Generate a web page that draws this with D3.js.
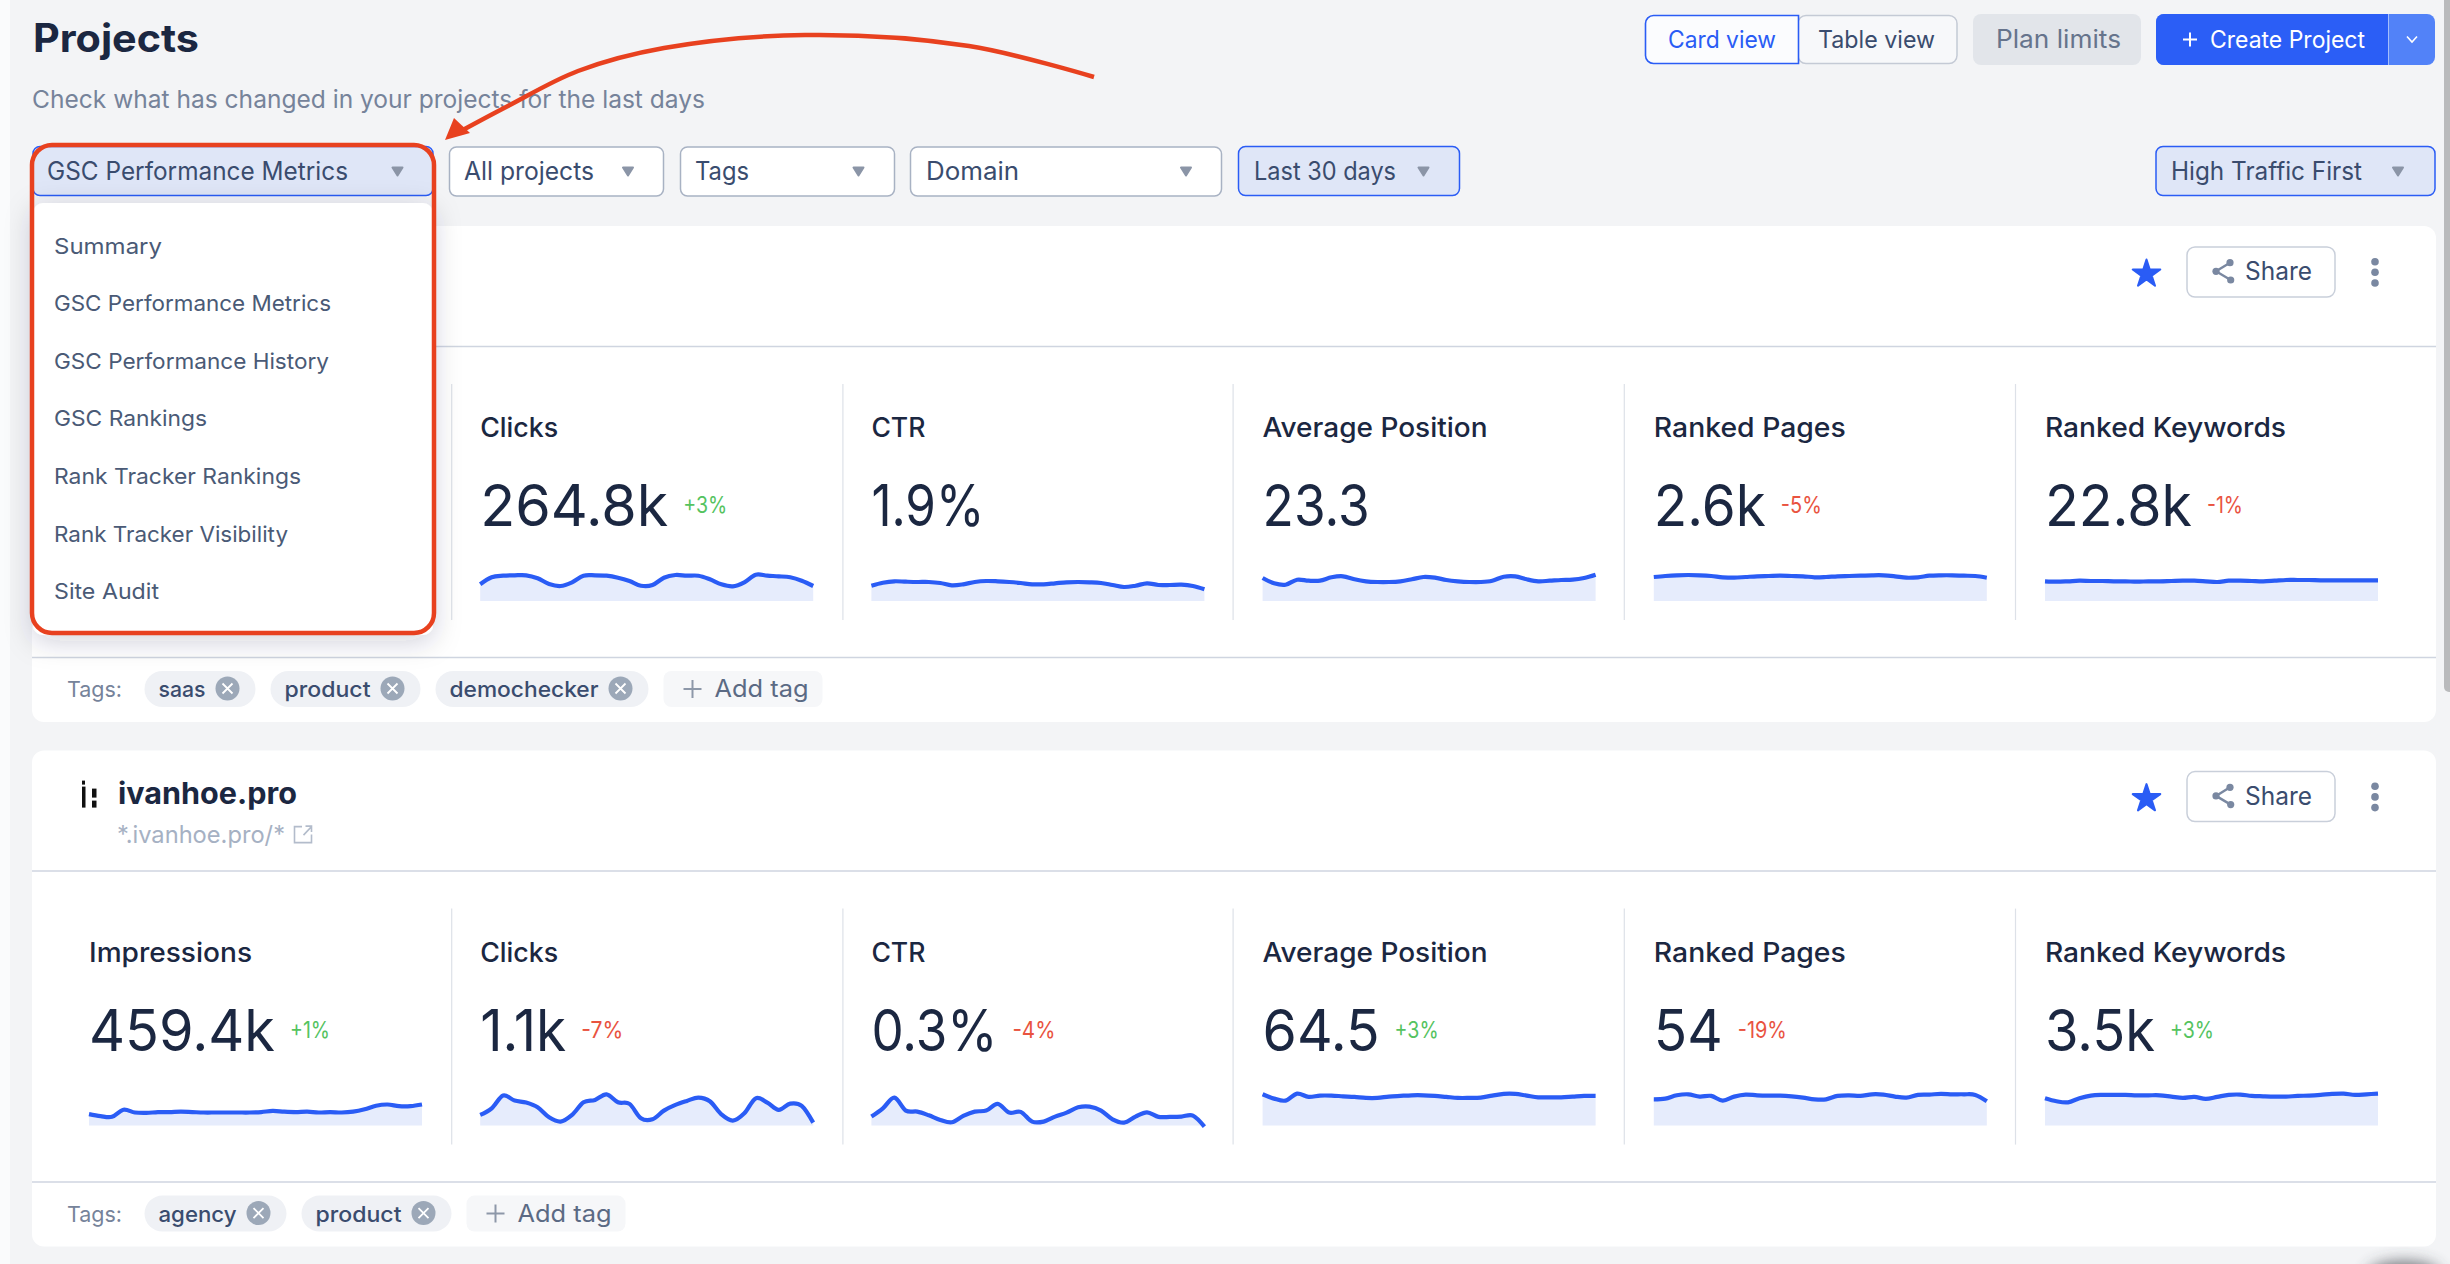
<!DOCTYPE html>
<html>
<head>
<meta charset="utf-8">
<title>Projects</title>
<script src="https://cdn.jsdelivr.net/npm/d3@7"></script>
<style>
  html, body { margin: 0; padding: 0; background: #f3f4f6; overflow: hidden; }
  svg { display: block; }
  text { font-family: Inter, "Noto Sans", sans-serif; }
</style>
</head>
<body>
<svg id="chart" width="2450" height="1264"></svg>
<script>
// ---- data ----
const metricNames = ["Impressions", "Clicks", "CTR", "Average Position", "Ranked Pages", "Ranked Keywords"];

// first card: the Impressions column sits behind the open dropdown
const cardOneValues = [null, "264.8k", "1.9%", "23.3", "2.6k", "22.8k"];
const cardOneDeltas = [null, "+3%", "", "", "-5%", "-1%"];
const cardTwoValues = ["459.4k", "1.1k", "0.3%", "64.5", "54", "3.5k"];
const cardTwoDeltas = ["+1%", "-7%", "-4%", "+3%", "-19%", "+3%"];

// sparkline series, 30 days each
const clicksOne = [16.7,23.7,25.3,25.7,25.7,22.7,17,15,18.7,25.3,25.7,25.3,23.3,20,15.3,16,23.3,26,25.3,25.3,21.7,16.7,14.7,18.7,26.3,25.3,24.7,23.7,20.3,15];
const ctrOne = [15.3,18.3,19.7,19.3,19,19,18,15.7,16.7,19,20,19.7,19,18,16.7,16.7,17.7,18.7,19,18.7,18,16,14,15.3,17.7,16,16,16.3,15,11.7];
const positionOne = [23,17.7,16.3,21.3,20.3,20.3,23.7,24.7,21.7,19.7,19,19,19.7,21.7,24,23.3,21,19.7,19,19,20.3,24.3,24.7,21.7,19.7,20.3,21,21.3,23,26.3];
const pagesOne = [24,25,25.7,26,25.7,25,23.7,23.3,24,24.7,25,25.3,25,24.7,23.7,24,24.7,25,25.3,25.7,25.7,24.7,23.3,23.7,25.3,25.7,25.7,25.3,25,23.3];
const keywordsOne = [19.7,19.3,19.7,20.3,20,20,19.7,19.7,19.3,19.7,19.7,20,20.3,20.3,19.7,19,20.3,20.3,20,19.7,20.3,21,21,21,20.7,20.7,20.7,20.7,20.7,20.7];

const impressionsTwo = [11.5,9.5,8.8,15.9,13.1,12.7,13.5,13.5,13.9,13.5,13.1,13.1,13.1,13.1,13.1,13.5,14.7,13.9,13.5,13.9,13.1,13.5,13.1,13.9,16.3,19.9,21.1,19.5,19.5,21.1];
const clicksTwo = [10.7,17.3,30,25,23,18.3,8.3,4,10.7,23.3,25.7,31.3,23.3,21.7,7.3,6.3,15,20.7,24.7,28,24.3,11.3,5,12.3,27.3,23,15.7,22,19.7,3];
const ctrTwo = [9,17.3,28,15,14,10.3,5.7,3.3,9.7,14,15,21.7,13,13.7,4,4,9,13,18.3,19,15,6.3,3,9,13.3,8.7,8.7,9,10,-1];
const positionTwo = [31.3,27,25,32,28.7,30,30,29.3,28.7,27.7,27.7,29,29.7,30.3,30.3,29.7,28.7,27.7,27.7,28,30,31.7,31.7,30,28.3,28.3,28.3,29,29.7,29.7];
const pagesTwo = [26.3,27,30.3,31.3,29,29.7,25,29,31,30.3,30,30,29.3,28,26.3,26.3,29.7,30.3,29.7,31.3,31,29,28,30.7,31,31.7,31.3,31.3,30.7,24.3];
const keywordsTwo = [27.3,24.3,23.3,27.3,30,30.7,30.7,30.7,30.3,30.3,30.3,29,27.7,28.7,26.7,28.7,30.7,31,29.7,29.3,29,29,29.7,30,30.7,31.7,32,30.7,31.3,32];

const cardOneSeries = [null, clicksOne, ctrOne, positionOne, pagesOne, keywordsOne];
const cardTwoSeries = [impressionsTwo, clicksTwo, ctrTwo, positionTwo, pagesTwo, keywordsTwo];

const menuItems = ["Summary", "GSC Performance Metrics", "GSC Performance History", "GSC Rankings", "Rank Tracker Rankings", "Rank Tracker Visibility", "Site Audit"];
const cardOneTags = ["saas", "product", "demochecker"];
const cardTwoTags = ["agency", "product"];

// ---- layout ----
// widths of the strings in the reference, the font here is a bit narrower
const fitWidths = {
  "Projects": 166, "Check what has changed in your projects for the last days": 673,
  "GSC Performance Metrics": 301, "All projects": 130, "Tags": 54, "Domain": 93, "Last 30 days": 142, "High Traffic First": 191,
  "Card view": 108, "Table view": 117, "Plan limits": 125, "Create Project": 155, "Share": 67,
  "Impressions": 163, "Clicks": 78, "CTR": 54, "Average Position": 225, "Ranked Pages": 192, "Ranked Keywords": 241,
  "264.8k": 188, "1.9%": 113, "23.3": 107, "2.6k": 112, "22.8k": 147, "459.4k": 186, "1.1k": 86, "0.3%": 126, "64.5": 117, "54": 69, "3.5k": 110,
  "+3%": 44, "+1%": 40, "-5%": 41, "-1%": 36, "-7%": 42, "-4%": 43, "-19%": 49,
  "saas": 47, "product": 86, "demochecker": 149, "agency": 78, "Add tag": 94, "Tags:": 55,
  "ivanhoe.pro": 179, "*.ivanhoe.pro/*": 168
};
const menuWidths = [108, 277, 275, 153, 247, 234, 105];

const ink = "#1b2741", slate = "#3a4c6e", muted = "#76839a", blue = "#2a5cf5", arrowGrey = "#8b95a7", red = "#e8411f";
const green = "#55c35f", lossRed = "#e9533f";

let svg = d3.select("#chart");

function label(parent, str, x, y, size, color, weight, width) {
  let t = parent.append("text")
    .attr("x", x).attr("y", y)
    .attr("font-size", size)
    .attr("font-weight", weight || 400)
    .attr("fill", color)
    .text(str);
  let w = width || fitWidths[str];
  if (w) t.attr("textLength", w).attr("lengthAdjust", "spacingAndGlyphs");
  return t;
}

function box(parent, x, y, w, h, r, fill, stroke, sw) {
  return parent.append("rect")
    .attr("x", x).attr("y", y).attr("width", w).attr("height", h).attr("rx", r)
    .attr("fill", fill).attr("stroke", stroke || "none").attr("stroke-width", sw || 0);
}

// rect with only the corners on one side rounded
function sideRound(x, y, w, h, r, side) {
  let rl = side === "left" ? r : 0, rr = side === "right" ? r : 0;
  let p = d3.path();
  p.moveTo(x + rl, y);
  p.lineTo(x + w - rr, y);
  if (rr) p.arcTo(x + w, y, x + w, y + rr, rr);
  p.lineTo(x + w, y + h - rr);
  if (rr) p.arcTo(x + w, y + h, x + w - rr, y + h, rr);
  p.lineTo(x + rl, y + h);
  if (rl) p.arcTo(x, y + h, x, y + h - rl, rl);
  p.lineTo(x, y + rl);
  if (rl) p.arcTo(x, y, x + rl, y, rl);
  p.closePath();
  return p.toString();
}

let defs = svg.append("defs");
let shadow = defs.append("filter").attr("id", "menuShadow")
  .attr("x", "-20%").attr("y", "-20%").attr("width", "140%").attr("height", "140%");
shadow.append("feDropShadow").attr("dx", 0).attr("dy", 6).attr("stdDeviation", 14)
  .attr("flood-color", "#1b2741").attr("flood-opacity", 0.2);
defs.append("filter").attr("id", "blob").attr("x", "-50%").attr("y", "-100%").attr("width", "200%").attr("height", "300%")
  .append("feGaussianBlur").attr("stdDeviation", 8);

// page background
svg.append("rect").attr("width", 2450).attr("height", 1264).attr("fill", "#f3f4f6");
svg.append("rect").attr("width", 10).attr("height", 1264).attr("fill", "#fafbfc");
box(svg, 2444, -8, 10, 700, 5, "#b9babc");
svg.append("ellipse").attr("cx", 2404).attr("cy", 1275).attr("rx", 36).attr("ry", 13)
  .attr("fill", "#3a3d44").attr("opacity", 0.75).attr("filter", "url(#blob)");

// ---- header ----
label(svg, "Projects", 33, 52, 39, ink, 700);
label(svg, "Check what has changed in your projects for the last days", 32, 108, 24.5, muted);

box(svg, 1798, 15.5, 159, 48, 8, "#f7f8fa", "#c4cad5", 1.5);
svg.append("path").attr("d", sideRound(1645.5, 15.5, 153, 48, 8, "left")).attr("fill", "#fbfcfe").attr("stroke", blue).attr("stroke-width", 1.6);
label(svg, "Card view", 1668, 48, 24, blue, 400);
label(svg, "Table view", 1818, 48, 24, slate, 400);

box(svg, 1973, 14, 168, 51, 8, "#e2e5ea");
label(svg, "Plan limits", 1996, 48, 25, "#66748c", 400);

box(svg, 2156, 14, 279, 51, 8, "#5282f8");
svg.append("path").attr("d", sideRound(2156, 14, 232, 51, 8, "left")).attr("fill", "#2b5ef6");
svg.append("line").attr("x1", 2388.5).attr("x2", 2388.5).attr("y1", 14).attr("y2", 65).attr("stroke", "#a5bdfb").attr("stroke-width", 1);
svg.append("path").attr("d", "M2183 39.5H2197M2190 32.5V46.5").attr("stroke", "#fff").attr("stroke-width", 2).attr("fill", "none");
label(svg, "Create Project", 2210, 48, 24, "#fff", 400);
svg.append("path").attr("d", "M2407 36.5L2412 42L2417 36.5").attr("stroke", "#fff").attr("stroke-width", 1.6).attr("fill", "none");

// ---- filter row ----
function filterBox(str, x, w, textX, arrowX, selected) {
  let y = selected ? 146.5 : 147, h = 49;
  box(svg, x, y, w, h, 7, selected ? "#dfe6f7" : "#fff", selected ? blue : "#a8b2c3", 1.5);
  label(svg, str, textX, 179.5, 25, slate);
  svg.append("path").attr("d", d3.line()([[arrowX - 5, 167.5], [arrowX + 5, 167.5], [arrowX, 175.5]]) + "Z")
    .attr("fill", arrowGrey).attr("stroke", arrowGrey).attr("stroke-width", 2).attr("stroke-linejoin", "round");
}
filterBox("GSC Performance Metrics", 33, 400, 47, 397.5, true);
filterBox("All projects", 449.5, 214, 464, 628, false);
filterBox("Tags", 680.5, 214, 695, 858.5, false);
filterBox("Domain", 910.5, 311, 926, 1186, false);
filterBox("Last 30 days", 1238.5, 221, 1254, 1423.5, true);
filterBox("High Traffic First", 2156, 279, 2171, 2398, true);

// ---- project cards ----
let columnX = d3.scaleLinear().domain([0, 5]).range([89, 2045]);
let sparkW = 333;

function drawSpark(g, series, i, base) {
  let x = d3.scaleLinear().domain([0, series.length - 1]).range([columnX(i), columnX(i) + sparkW]);
  let y = d3.scaleLinear().domain([0, 50]).range([base, base - 50]);
  let curve = d3.curveCardinal.tension(0);
  g.append("path").datum(series)
    .attr("fill", "#e6ecfc")
    .attr("d", d3.area().x((d, k) => x(k)).y0(base).y1(d => y(Math.max(d, 0))).curve(curve));
  g.append("path").datum(series)
    .attr("fill", "none").attr("stroke", blue).attr("stroke-width", 4.2).attr("stroke-linejoin", "round")
    .attr("d", d3.line().x((d, k) => x(k)).y(d => y(d)).curve(curve));
}

function drawCard(top, values, deltas, series, tags) {
  let g = svg.append("g").attr("transform", "translate(0," + top + ")");
  box(g, 32, 0, 2404, 496, 12, "#fff");

  g.append("line").attr("x1", 32).attr("x2", 2436).attr("y1", 120.5).attr("y2", 120.5).attr("stroke", "#cfd5e0").attr("stroke-width", 1.5);
  g.append("line").attr("x1", 32).attr("x2", 2436).attr("y1", 431.5).attr("y2", 431.5).attr("stroke", "#cfd5e0").attr("stroke-width", 1.5);

  // star, share button, dots
  g.append("path").attr("d", d3.symbol(d3.symbolStar).size(236)())
    .attr("transform", "translate(2146.5,48)")
    .attr("fill", blue).attr("stroke", blue).attr("stroke-width", 2).attr("stroke-linejoin", "round");
  box(g, 2187, 21, 148, 50, 8, "#fff", "#c9cfda", 1.5);
  g.append("path").attr("d", "M2230 36.7L2216 45.3L2230.7 54").attr("fill", "none").attr("stroke", "#7a88a1").attr("stroke-width", 2.4);
  [[2230, 36.7], [2216, 45.3], [2230.7, 54]].forEach(n => {
    g.append("circle").attr("cx", n[0]).attr("cy", n[1]).attr("r", 3.6).attr("fill", "#7a88a1");
  });
  label(g, "Share", 2245, 54, 25, slate, 400);
  [35.7, 46.3, 57].forEach(cy => {
    g.append("circle").attr("cx", 2375).attr("cy", cy).attr("r", 3.8).attr("fill", "#7a88a1");
  });

  // metric columns
  metricNames.forEach((name, i) => {
    if (i > 0) {
      let lineX = i < 3 ? columnX(i) - 28.5 : columnX(i) - 29.5;
      g.append("line").attr("x1", lineX).attr("x2", lineX).attr("y1", 158).attr("y2", 394).attr("stroke", "#dde1e8").attr("stroke-width", 1.2);
    }
    if (values[i] === null) return;
    label(g, name, columnX(i), 211, 27, ink, 450);
    label(g, values[i], columnX(i), 300, 58, ink, 400);
    if (deltas[i]) {
      label(g, deltas[i], columnX(i) + fitWidths[values[i]] + 15, 287, 23, deltas[i][0] === "+" ? green : lossRed, 400);
    }
    drawSpark(g, series[i], i, 375);
  });

  // tags row
  label(g, "Tags:", 67, 471, 22, muted);
  let x = 144.5;
  tags.forEach(tag => {
    let w = fitWidths[tag] + 64;
    box(g, x, 445, w, 36, 18, "#eff1f5");
    label(g, tag, x + 14, 471, 22, slate, 450);
    let cx = x + w - 28, cy = 462.5;
    g.append("circle").attr("cx", cx).attr("cy", cy).attr("r", 12).attr("fill", "#9ca8b8");
    g.append("path").attr("d", `M${cx - 5} ${cy - 5}L${cx + 5} ${cy + 5}M${cx + 5} ${cy - 5}L${cx - 5} ${cy + 5}`)
      .attr("stroke", "#fff").attr("stroke-width", 1.8);
    x += w + 15;
  });
  box(g, x, 445, 159, 36, 8, "#f6f7f9");
  g.append("path").attr("d", `M${x + 20} 463H${x + 38}M${x + 29} 454V472`).attr("stroke", "#8d98a9").attr("stroke-width", 2);
  label(g, "Add tag", x + 51, 471, 24, "#5b6a84", 400);
  return g;
}

drawCard(226, cardOneValues, cardOneDeltas, cardOneSeries, cardOneTags);
let second = drawCard(750.6, cardTwoValues, cardTwoDeltas, cardTwoSeries, cardTwoTags);

// logo, title and domain of the second card
second.append("rect").attr("x", 82).attr("y", 30).attr("width", 3).attr("height", 4).attr("fill", "#111");
second.append("rect").attr("x", 82).attr("y", 36).attr("width", 3.5).attr("height", 21).attr("fill", "#111");
second.append("rect").attr("x", 92).attr("y", 38).attr("width", 4.5).attr("height", 9).attr("fill", "#111");
second.append("rect").attr("x", 92).attr("y", 50).attr("width", 4.5).attr("height", 7).attr("fill", "#111");
label(second, "ivanhoe.pro", 118, 53, 30, ink, 700);
label(second, "*.ivanhoe.pro/*", 117, 92, 24, "#a6b1c3");
second.append("path").attr("d", "M302 76H294.5V92H311.5V84M303.5 84.5L311.5 76M305.5 75.5H311.5V81.5")
  .attr("fill", "none").attr("stroke", "#b3bccb").attr("stroke-width", 1.6);

// ---- open dropdown ----
box(svg, 33, 203, 400, 432, 10, "#fff").attr("filter", "url(#menuShadow)");
menuItems.forEach((item, i) => {
  label(svg, item, 54, 253.5 + i * 57.6, 22, "#4a5a76", 400, menuWidths[i]);
});

// ---- annotation: red frame and arrow ----
box(svg, 32, 145, 402, 488, 20, "none", red, 4.5);
let arrowPoints = [[1094, 77], [969, 46], [805, 35], [664, 48], [578, 71], [508, 106], [461, 131]];
svg.append("path")
  .attr("d", d3.line().curve(d3.curveCatmullRom.alpha(0.5))(arrowPoints))
  .attr("fill", "none").attr("stroke", red).attr("stroke-width", 4.5);
svg.append("path").attr("d", "M445 140L454 118L470 133Z").attr("fill", red);
</script>
</body>
</html>
